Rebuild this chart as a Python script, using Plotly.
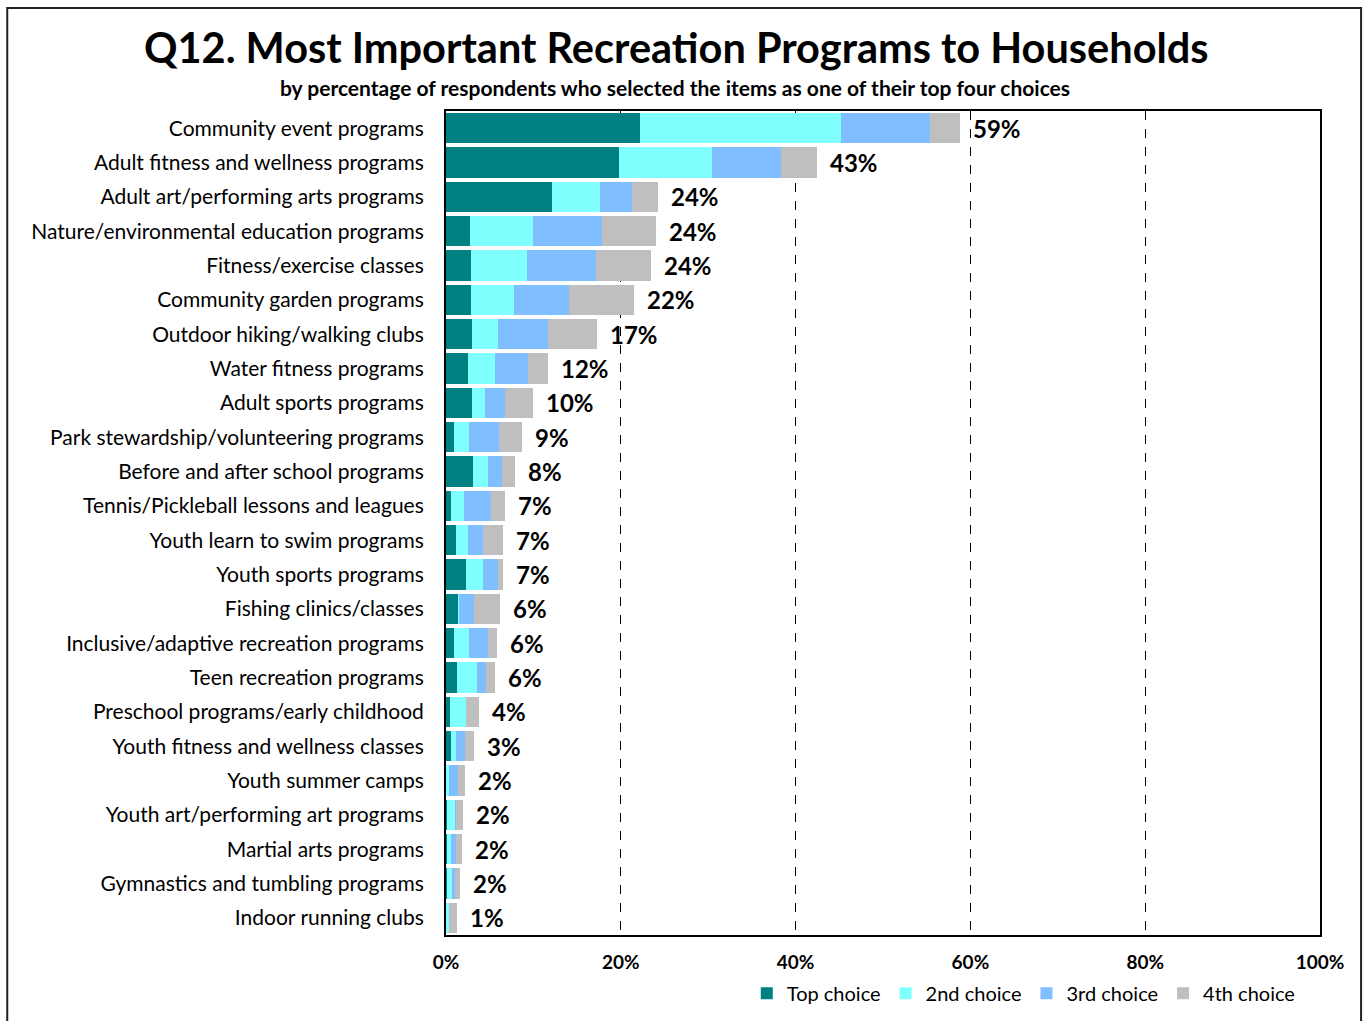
import plotly.graph_objects as go

categories = [
    "Community event programs",
    "Adult fitness and wellness programs",
    "Adult art/performing arts programs",
    "Nature/environmental education programs",
    "Fitness/exercise classes",
    "Community garden programs",
    "Outdoor hiking/walking clubs",
    "Water fitness programs",
    "Adult sports programs",
    "Park stewardship/volunteering programs",
    "Before and after school programs",
    "Tennis/Pickleball lessons and leagues",
    "Youth learn to swim programs",
    "Youth sports programs",
    "Fishing clinics/classes",
    "Inclusive/adaptive recreation programs",
    "Teen recreation programs",
    "Preschool programs/early childhood",
    "Youth fitness and wellness classes",
    "Youth summer camps",
    "Youth art/performing art programs",
    "Martial arts programs",
    "Gymnastics and tumbling programs",
    "Indoor running clubs",
]

top_choice = [22.2, 19.8, 12.1, 2.8, 2.9, 2.9, 3.0, 2.5, 3.0, 0.9, 3.1, 0.6,
              1.1, 2.3, 1.4, 0.9, 1.3, 0.5, 0.6, 0.1, 0.1, 0.1, 0.1, 0.1]
second_choice = [23.0, 10.6, 5.5, 7.1, 6.4, 4.9, 3.0, 3.1, 1.5, 1.7, 1.7, 1.5,
                 1.4, 1.9, 0.1, 1.7, 2.3, 1.8, 0.6, 0.2, 1.0, 0.5, 0.7, 0.2]
third_choice = [10.2, 7.9, 3.7, 8.0, 7.9, 6.3, 5.7, 3.8, 2.3, 3.5, 1.6, 3.1,
                1.7, 1.7, 1.7, 2.2, 1.0, 0.0, 1.0, 1.1, 0.1, 0.6, 0.2, 0.0]
fourth_choice = [3.4, 4.1, 3.0, 6.1, 6.3, 7.4, 5.6, 2.3, 3.2, 2.6, 1.5, 1.5,
                 2.3, 0.6, 3.0, 1.0, 1.0, 1.5, 1.0, 0.8, 0.8, 0.6, 0.6, 1.0]
total_labels = ["59%", "43%", "24%", "24%", "24%", "22%", "17%", "12%", "10%", "9%",
                "8%", "7%", "7%", "7%", "6%", "6%", "6%", "4%", "3%", "2%", "2%",
                "2%", "2%", "1%"]

x_tick_values = [0, 20, 40, 60, 80, 100]
x_tick_labels = ["0%", "20%", "40%", "60%", "80%", "100%"]

series_names = ["Top choice", "2nd choice", "3rd choice", "4th choice"]
series_values = [top_choice, second_choice, third_choice, fourth_choice]
colors = ["#008080", "#80FFFF", "#7FBFFF", "#BFBFBF"]

FONT = "Lato"

fig = go.Figure()
for name, vals, col in zip(series_names, series_values, colors):
    fig.add_trace(go.Bar(
        y=categories, x=vals, name=name, orientation="h",
        marker=dict(color=col, line=dict(width=0)),
        hoverinfo="x+y+name",
    ))

totals = [sum(v) for v in zip(*series_values)]
annotations = []
for cat, tot, lab in zip(categories, totals, total_labels):
    annotations.append(dict(
        x=tot, y=cat, xref="x", yref="y", text="<b>%s</b>" % lab,
        showarrow=False, xanchor="left", xshift=11,
        font=dict(family=FONT, size=24, color="black"),
    ))

annotations.append(dict(
    x=0.5, y=1.078, xref="paper", yref="paper", xanchor="center", yanchor="middle",
    text="<b>Q12. Most Important Recreation Programs to Households</b>",
    showarrow=False, font=dict(family=FONT, size=41.5, color="black"),
    xshift=-207,
))
annotations.append(dict(
    x=0.5, y=1.029, xref="paper", yref="paper", xanchor="center", yanchor="middle",
    text="<b>by percentage of respondents who selected the items as one of their top four choices</b>",
    showarrow=False, font=dict(family=FONT, size=21, color="black"),
    xshift=-208,
))

fig.update_layout(
    width=1368, height=1021,
    barmode="stack", bargap=0.12,
    plot_bgcolor="white", paper_bgcolor="white",
    margin=dict(l=446, r=48, t=111, b=86, autoexpand=False),
    font=dict(family=FONT, color="black"),
    showlegend=True,
    legend=dict(
        orientation="h", x=0.978, xanchor="right", y=-0.047, yanchor="top",
        font=dict(family=FONT, size=20, color="black"),
        traceorder="normal", itemwidth=30, tracegroupgap=0,
    ),
    annotations=annotations,
    shapes=[dict(
        type="rect", xref="paper", yref="paper",
        x0=-0.502, x1=1.047, y0=-0.12, y1=1.125,
        line=dict(color="#222222", width=2), fillcolor="rgba(0,0,0,0)", layer="below",
    )],
)

fig.update_xaxes(
    range=[0, 100], tickmode="array", tickvals=x_tick_values, ticktext=x_tick_labels,
    tickfont=dict(family=FONT, size=19, color="black", weight="bold"),
    showgrid=True, gridcolor="black", griddash="dash", gridwidth=1,
    showline=True, linecolor="black", linewidth=2, mirror=True,
    zeroline=False, ticks="", ticklabelstandoff=9, fixedrange=True,
)
fig.update_yaxes(
    autorange="reversed", categoryorder="array", categoryarray=categories,
    tickfont=dict(family=FONT, size=21, color="black"),
    showline=True, linecolor="black", linewidth=2, mirror=True,
    ticks="", ticklabelstandoff=16, showgrid=False, fixedrange=True,
)

fig.write_html(
    "out.html",
    config={"displayModeBar": False},
    post_script="document.body.style.margin='0';document.body.style.overflow='hidden';",
)
